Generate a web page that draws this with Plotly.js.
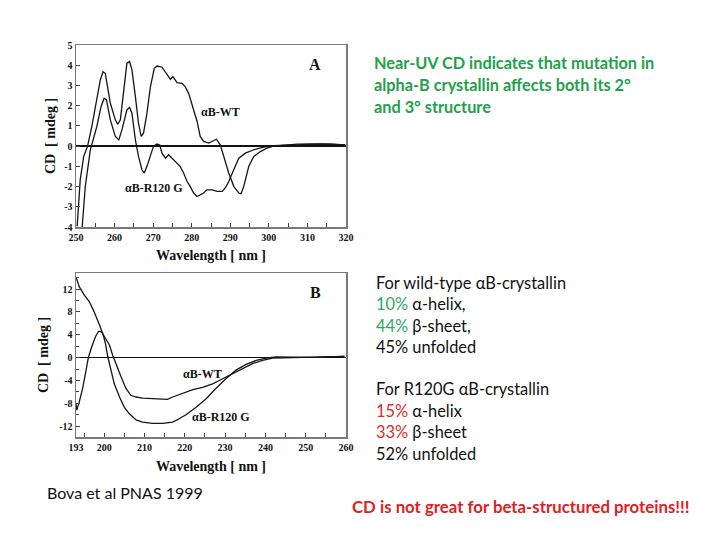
<!DOCTYPE html>
<html>
<head>
<meta charset="utf-8">
<script src="https://cdn.plot.ly/plotly-3.0.1.min.js"></script>
<style>html,body{margin:0;padding:0;background:#fff;}#chart{width:720px;height:540px;}</style>
</head>
<body>
<div id="chart"></div>
<script>
// Panel A: near-UV CD
const waveA_WT = [250.3,251.1,252.0,253.0,254.1,255.4,256.3,257.0,257.6,258.9,260.2,260.8,261.5,262.4,263.2,263.9,264.5,265.4,266.2,266.9,267.5,268.4,269.3,270.3,271.0,272.3,273.6,274.5,275.1,276.2,277.5,278.3,279.2,280.5,281.4,282.2,283.1,284.4,285.3,286.4,287.4,288.3,289.6,290.9,292.2,292.8,293.5,294.8,296.1,297.8,299.5,301.2,303.8,307.3,311.6,315.9,319.8];
const cdA_WT = [-3.97,-1.66,-0.51,0.0,0.97,2.45,3.27,3.68,3.6,2.12,1.3,1.08,1.3,2.78,4.1,4.18,3.77,2.45,1.13,0.48,0.64,1.63,2.94,3.85,3.96,3.9,3.52,3.3,3.44,3.14,3.1,2.94,2.61,1.79,1.22,0.48,0.23,0.15,0.23,0.34,0.06,-0.51,-1.33,-1.99,-2.32,-2.35,-1.99,-1.0,-0.51,-0.27,-0.1,0.0,0.05,0.1,0.11,0.11,0.06];
const waveA_R120G = [251.6,252.4,253.7,254.6,255.4,256.5,257.3,257.9,258.9,260.2,261.1,261.9,263.2,263.9,264.5,265.4,266.2,267.1,267.7,268.4,269.3,270.1,271.0,271.7,272.3,273.2,274.0,274.9,276.2,277.0,277.9,278.8,279.6,280.5,281.4,282.2,283.1,283.9,285.3,286.6,287.9,288.7,289.6,290.9,292.2,293.9,296.1,298.7,301.2,304.7,309.0,313.3,319.8];
const cdA_R120G = [-4.0,-2.0,-0.2,0.48,0.97,1.96,2.37,2.29,1.3,0.48,0.31,0.8,1.79,1.92,1.63,0.31,-0.51,-1.17,-1.33,-1.0,-0.43,0.0,0.1,0.05,-0.35,-0.6,-0.43,-0.6,-0.84,-1.0,-1.33,-1.75,-1.99,-2.32,-2.49,-2.4,-2.32,-2.16,-2.16,-2.24,-2.24,-2.07,-1.75,-1.17,-0.6,-0.35,-0.18,-0.05,0.02,0.05,0.08,0.1,0.06];

// Panel B: far-UV CD
const waveB_WT = [193.1,193.8,195.1,196.3,197.5,198.4,199.0,199.6,200.4,201.3,202.1,202.9,204.2,205.4,206.6,207.9,209.5,212.0,214.5,215.7,217.0,219.5,222.0,224.4,226.9,229.4,231.9,234.4,236.8,239.3,241.8,244.3,246.8,251.7,255.9,259.6];
const cdB_WT = [13.9,12.4,10.9,9.8,8.0,6.6,5.4,4.2,3.3,2.2,0.4,-1.1,-3.4,-5.4,-6.6,-6.9,-7.1,-7.2,-7.2,-7.3,-6.9,-6.2,-5.6,-5.2,-4.6,-3.7,-2.8,-1.9,-1.05,-0.47,-0.1,-0.05,0.0,0.05,0.1,0.2];
const waveB_R120G = [193.0,193.2,193.8,194.7,195.5,196.1,196.9,197.8,198.6,199.0,199.6,200.3,200.9,201.7,202.5,203.8,205.0,206.2,207.9,209.5,212.0,214.5,217.0,218.6,220.3,222.8,225.3,227.7,230.2,232.7,235.2,237.7,240.2,242.6,246.8,251.7,259.6];
const cdB_R120G = [-8.1,-9.2,-7.8,-5.2,-2.2,0.1,1.9,3.6,4.6,4.6,4.3,2.5,0.1,-2.2,-4.6,-6.9,-8.7,-9.8,-10.9,-11.3,-11.5,-11.5,-11.3,-10.7,-10.0,-8.7,-7.2,-5.4,-3.7,-2.2,-1.2,-0.5,-0.1,0.1,0.05,0.05,0.2];

// Tick labels
const xTicksA = [250,260,270,280,290,300,310,320];
const yTicksA = [-4,-3,-2,-1,0,1,2,3,4,5];
const yTickTextA = ["-4","-3","-2","-1","0","1","2","3","4","5"];
const xTicksB = [193,200,210,220,230,240,250,260];
const yTicksB = [-12,-8,-4,0,4,8,12];
const yTickTextB = ["-12","-8","-4","0","4","8","12"];

const serif = 'Liberation Serif, Times New Roman, serif';
const sans = 'Lato, Noto Sans, sans-serif';
const lineStyle = {color:'#151515', width:1.3};

const traces = [
  {x:waveA_WT, y:cdA_WT, xaxis:'x', yaxis:'y', mode:'lines', line:lineStyle, name:'αB-WT'},
  {x:waveA_R120G, y:cdA_R120G, xaxis:'x', yaxis:'y', mode:'lines', line:lineStyle, name:'αB-R120 G'},
  {x:waveB_WT, y:cdB_WT, xaxis:'x2', yaxis:'y2', mode:'lines', line:lineStyle, name:'αB-WT'},
  {x:waveB_R120G, y:cdB_R120G, xaxis:'x2', yaxis:'y2', mode:'lines', line:lineStyle, name:'αB-R120 G'}
];

const tickFont = {family:serif, size:10, color:'#111', weight:'bold'};
const titleFont = {family:serif, size:14, color:'#111', weight:'bold'};
const common = {
  showline:true, mirror:true, linecolor:'#7a7a7a', linewidth:1.5,
  showgrid:false, ticks:'inside', ticklen:4, tickcolor:'#444', tickwidth:1,
  tickfont:tickFont, automargin:false, fixedrange:true
};

const layout = {
  width:720, height:540,
  paper_bgcolor:'#fff', plot_bgcolor:'#fff',
  margin:{l:0,r:0,t:0,b:0},
  showlegend:false,
  xaxis: Object.assign({}, common, {
    domain:[76/720, 346/720], range:[250,320], tickmode:'array', tickvals:xTicksA,
    minor:{dtick:5, tick0:250, ticks:'inside', ticklen:4, tickcolor:'#444'},
    zeroline:false, anchor:'y',
    title:{text:'Wavelength [ nm ]', font:titleFont, standoff:8}
  }),
  yaxis: Object.assign({}, common, {
    domain:[1-227/540, 1-45/540], range:[-4,5], tickmode:'array', tickvals:yTicksA, ticktext:yTickTextA,
    zeroline:true, zerolinecolor:'#111', zerolinewidth:1.4, anchor:'x',
    title:{text:'CD  [ mdeg ]', font:titleFont, standoff:5}
  }),
  xaxis2: Object.assign({}, common, {
    domain:[76/720, 346/720], range:[193,260], tickmode:'array', tickvals:xTicksB,
    minor:{dtick:5, tick0:195, ticks:'inside', ticklen:4, tickcolor:'#444'},
    zeroline:false, anchor:'y2',
    title:{text:'Wavelength [ nm ]', font:titleFont, standoff:9}
  }),
  yaxis2: Object.assign({}, common, {
    domain:[1-437/540, 1-273/540], range:[-13.9,14.8], tickmode:'array', tickvals:yTicksB, ticktext:yTickTextB,
    minor:{dtick:2, tick0:0, ticks:'inside', ticklen:3, tickcolor:'#444'},
    zeroline:true, zerolinecolor:'#111', zerolinewidth:1.4, anchor:'x2',
    title:{text:'CD  [ mdeg ]', font:titleFont, standoff:7}
  }),
  annotations: [
    {xref:'x', yref:'y', x:287.5, y:1.7, text:'αB-WT', showarrow:false, font:{family:serif, size:12, color:'#111', weight:'bold'}},
    {xref:'x', yref:'y', x:270.3, y:-2.07, text:'αB-R120 G', showarrow:false, font:{family:serif, size:12, color:'#111', weight:'bold'}},
    {xref:'x', yref:'y', x:312, y:4.05, text:'A', showarrow:false, font:{family:serif, size:16, color:'#111', weight:'bold'}},
    {xref:'x2', yref:'y2', x:224.5, y:-2.9, text:'αB-WT', showarrow:false, font:{family:serif, size:12, color:'#111', weight:'bold'}},
    {xref:'x2', yref:'y2', x:229, y:-10.4, text:'αB-R120 G', showarrow:false, font:{family:serif, size:12, color:'#111', weight:'bold'}},
    {xref:'x2', yref:'y2', x:252.4, y:11.4, text:'B', showarrow:false, font:{family:serif, size:16, color:'#111', weight:'bold'}},

    {xref:'paper', yref:'paper', xanchor:'left', yanchor:'middle', x:372/720, y:1-62/540, showarrow:false, text:'Near-UV CD indicates that mutation in', font:{family:sans, size:16.3, color:'#22a04b', weight:'bold'}},
    {xref:'paper', yref:'paper', xanchor:'left', yanchor:'middle', x:372/720, y:1-84/540, showarrow:false, text:'alpha-B crystallin affects both its 2°', font:{family:sans, size:16.3, color:'#22a04b', weight:'bold'}},
    {xref:'paper', yref:'paper', xanchor:'left', yanchor:'middle', x:372/720, y:1-106/540, showarrow:false, text:'and 3° structure', font:{family:sans, size:16.3, color:'#22a04b', weight:'bold'}},

    {xref:'paper', yref:'paper', xanchor:'left', yanchor:'middle', x:374/720, y:1-282/540, showarrow:false, text:'For wild-type αB-crystallin', font:{family:sans, size:16.4, color:'#111'}},
    {xref:'paper', yref:'paper', xanchor:'left', yanchor:'middle', x:374/720, y:1-303.5/540, showarrow:false, text:'<span style="color:#2ea866">10%</span> α-helix,', font:{family:sans, size:16.4, color:'#111'}},
    {xref:'paper', yref:'paper', xanchor:'left', yanchor:'middle', x:374/720, y:1-325/540, showarrow:false, text:'<span style="color:#2ea866">44%</span> β-sheet,', font:{family:sans, size:16.4, color:'#111'}},
    {xref:'paper', yref:'paper', xanchor:'left', yanchor:'middle', x:374/720, y:1-346.5/540, showarrow:false, text:'45% unfolded', font:{family:sans, size:16.4, color:'#111'}},
    {xref:'paper', yref:'paper', xanchor:'left', yanchor:'middle', x:374/720, y:1-388.5/540, showarrow:false, text:'For R120G αB-crystallin', font:{family:sans, size:16.4, color:'#111'}},
    {xref:'paper', yref:'paper', xanchor:'left', yanchor:'middle', x:374/720, y:1-410/540, showarrow:false, text:'<span style="color:#e02a2a">15%</span> α-helix', font:{family:sans, size:16.4, color:'#111'}},
    {xref:'paper', yref:'paper', xanchor:'left', yanchor:'middle', x:374/720, y:1-431.5/540, showarrow:false, text:'<span style="color:#e02a2a">33%</span> β-sheet', font:{family:sans, size:16.4, color:'#111'}},
    {xref:'paper', yref:'paper', xanchor:'left', yanchor:'middle', x:374/720, y:1-453/540, showarrow:false, text:'52% unfolded', font:{family:sans, size:16.4, color:'#111'}},

    {xref:'paper', yref:'paper', xanchor:'left', yanchor:'middle', x:45/720, y:1-492/540, showarrow:false, text:'Bova et al PNAS 1999', font:{family:sans, size:16, color:'#111'}},
    {xref:'paper', yref:'paper', xanchor:'left', yanchor:'middle', x:350/720, y:1-506/540, showarrow:false, text:'CD is not great for beta-structured proteins!!!', font:{family:sans, size:16.8, color:'#e0201f', weight:'bold'}}
  ]
};

Plotly.newPlot('chart', traces, layout, {staticPlot:true, displayModeBar:false});
</script>
</body>
</html>
